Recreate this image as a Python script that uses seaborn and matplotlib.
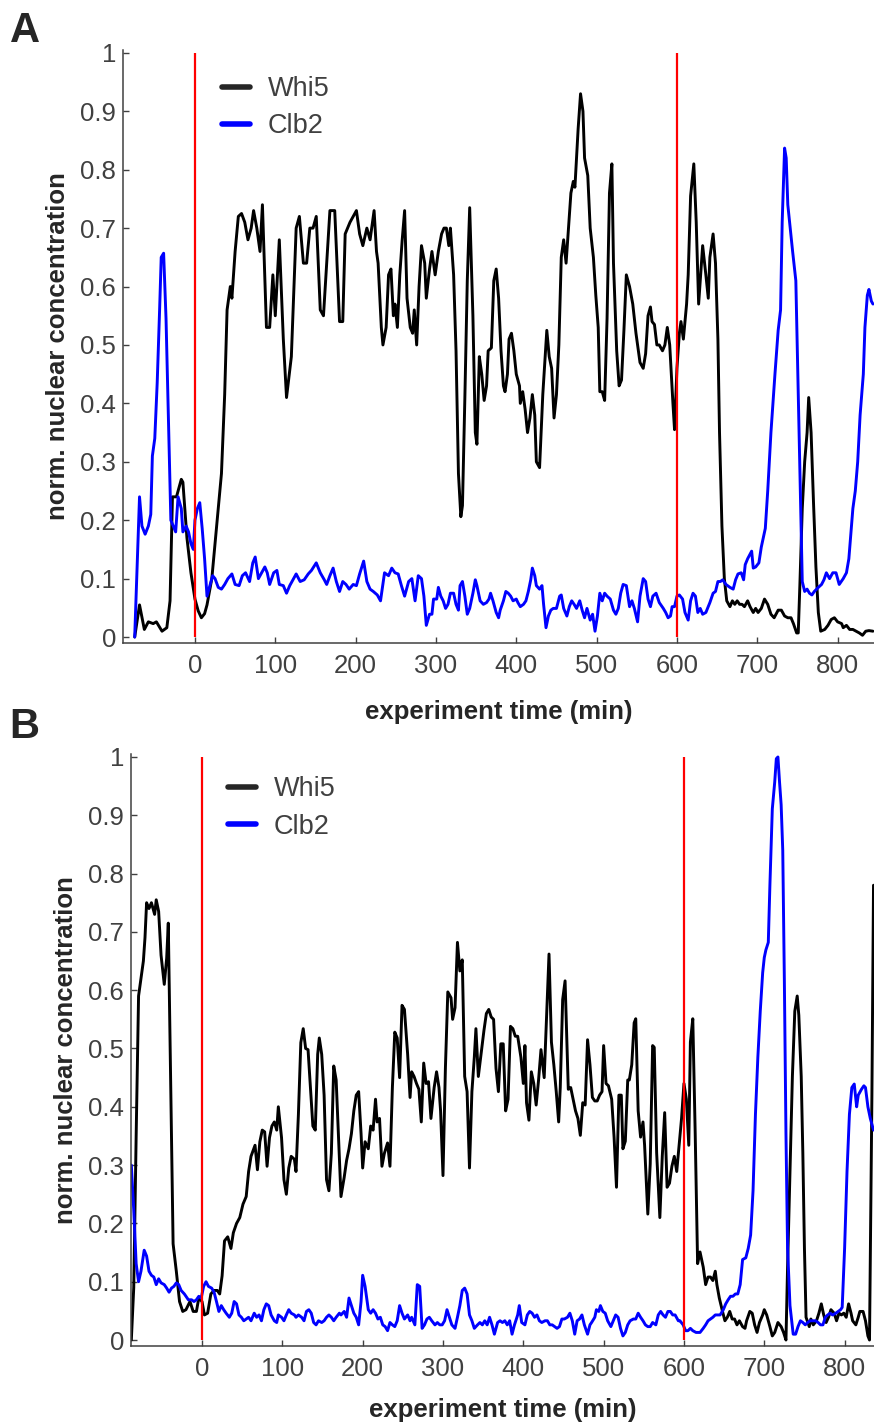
import numpy as np
import pandas as pd
import matplotlib
matplotlib.use("Agg")
import matplotlib.pyplot as plt
import seaborn as sns

# ---------------- data ----------------
# Panel A
tA_whi5 = [-75, -69, -63, -58, -52, -48, -41, -35, -31, -28, -23, -17, -15, -10, -5, 0, 4, 8, 12, 15,
           21, 27, 33, 37, 40, 44, 46, 50, 54, 58, 62, 66, 70, 73, 77, 81, 84, 89, 93, 97,
           100, 105, 110, 114, 120, 126, 130, 135, 139, 143, 147, 151, 156, 160, 168, 174, 180, 184, 187, 193,
           201, 205, 209, 214, 218, 223, 226, 228, 232, 234, 238, 241, 244, 247, 249, 252, 255, 258, 261, 264,
           268, 271, 273, 276, 279, 282, 286, 288, 292, 295, 299, 303, 307, 310, 313, 316, 318, 322, 325, 328,
           331, 333, 336, 339, 342, 346, 349, 351, 354, 357, 360, 363, 365, 369, 372, 375, 378, 381, 384, 386,
           389, 391, 394, 397, 400, 404, 405, 408, 411, 414, 417, 420, 423, 425, 429, 433, 436, 438, 441, 444,
           447, 450, 453, 456, 459, 462, 465, 468, 471, 473, 477, 480, 483, 485, 489, 492, 496, 499, 502, 504,
           507, 510, 513, 516, 519, 521, 525, 528, 531, 534, 537, 541, 545, 549, 554, 558, 561, 564, 567, 569,
           572, 575, 578, 582, 585, 588, 591, 593, 595, 597, 600, 603, 605, 608, 612, 614, 617, 621, 624, 627,
           629, 632, 636, 639, 641, 645, 648, 651, 653, 656, 659, 662, 666, 669, 672, 675, 678, 681, 684, 688,
           691, 695, 698, 701, 705, 709, 713, 717, 721, 726, 730, 734, 738, 742, 745, 749, 751, 753, 756, 759,
           762, 764, 767, 770, 773, 776, 779, 784, 788, 792, 796, 800, 805, 807, 811, 815, 819, 823, 827, 831,
           835, 839, 844]
vA_whi5 = [0.0, 0.055, 0.013, 0.026, 0.023, 0.026, 0.01, 0.016, 0.062, 0.24, 0.24, 0.27, 0.265, 0.17, 0.11, 0.065, 0.045, 0.033, 0.04, 0.055,
           0.10, 0.19, 0.28, 0.415, 0.56, 0.60, 0.58, 0.66, 0.72, 0.725, 0.71, 0.68, 0.70, 0.73, 0.70, 0.66, 0.74, 0.53, 0.53, 0.62,
           0.55, 0.68, 0.51, 0.41, 0.48, 0.70, 0.72, 0.64, 0.64, 0.70, 0.70, 0.72, 0.56, 0.55, 0.73, 0.73, 0.54, 0.54, 0.69, 0.71,
           0.73, 0.69, 0.67, 0.70, 0.68, 0.73, 0.66, 0.64, 0.53, 0.50, 0.53, 0.62, 0.63, 0.55, 0.57, 0.53, 0.62, 0.68, 0.73, 0.58,
           0.53, 0.52, 0.56, 0.50, 0.60, 0.67, 0.64, 0.58, 0.63, 0.66, 0.62, 0.66, 0.69, 0.70, 0.70, 0.67, 0.70, 0.62, 0.49, 0.28,
           0.206, 0.225, 0.41, 0.61, 0.735, 0.55, 0.35, 0.33, 0.48, 0.45, 0.405, 0.43, 0.49, 0.495, 0.61, 0.63, 0.58, 0.49, 0.43, 0.42,
           0.45, 0.51, 0.52, 0.49, 0.45, 0.43, 0.40, 0.42, 0.39, 0.35, 0.375, 0.415, 0.38, 0.30, 0.29, 0.415, 0.48, 0.525, 0.48, 0.46,
           0.375, 0.415, 0.50, 0.65, 0.68, 0.64, 0.70, 0.76, 0.78, 0.77, 0.87, 0.93, 0.90, 0.82, 0.79, 0.70, 0.65, 0.585, 0.53, 0.42,
           0.42, 0.405, 0.545, 0.76, 0.81, 0.64, 0.49, 0.43, 0.44, 0.525, 0.62, 0.60, 0.57, 0.52, 0.47, 0.46, 0.485, 0.55, 0.565, 0.54,
           0.535, 0.50, 0.50, 0.49, 0.50, 0.53, 0.50, 0.45, 0.40, 0.355, 0.46, 0.52, 0.54, 0.51, 0.57, 0.62, 0.755, 0.81, 0.71, 0.57,
           0.61, 0.67, 0.62, 0.58, 0.65, 0.69, 0.64, 0.51, 0.35, 0.19, 0.10, 0.062, 0.052, 0.062, 0.056, 0.062, 0.056, 0.056, 0.052, 0.062,
           0.052, 0.042, 0.049, 0.042, 0.049, 0.065, 0.056, 0.039, 0.033, 0.046, 0.046, 0.036, 0.033, 0.033, 0.023, 0.007, 0.007, 0.088, 0.22, 0.30,
           0.35, 0.41, 0.35, 0.23, 0.12, 0.042, 0.01, 0.013, 0.02, 0.03, 0.033, 0.026, 0.023, 0.016, 0.02, 0.013, 0.013, 0.01, 0.007, 0.003,
           0.01, 0.011, 0.01]

tA_clb2 = [-75, -69, -66, -62, -58, -55, -53, -50, -47, -44, -42, -39, -36, -33, -30, -27, -24, -21, -17, -15,
           -11, -8, -5, -2, 0, 3, 6, 9, 12, 15, 19, 22, 25, 29, 33, 37, 41, 46, 50, 55,
           59, 63, 68, 72, 75, 79, 83, 87, 90, 93, 98, 102, 105, 110, 114, 118, 122, 126, 131, 136,
           141, 145, 151, 156, 161, 164, 168, 172, 176, 180, 184, 188, 192, 197, 201, 205, 210, 214, 218, 222,
           227, 231, 236, 241, 245, 249, 253, 257, 261, 266, 270, 274, 278, 282, 285, 288, 292, 295, 297, 301,
           303, 306, 309, 312, 315, 318, 322, 325, 328, 330, 333, 336, 339, 342, 346, 349, 351, 355, 359, 363,
           366, 368, 371, 375, 378, 380, 384, 387, 390, 393, 396, 400, 402, 405, 409, 412, 415, 418, 420, 423,
           425, 429, 432, 434, 437, 440, 443, 446, 450, 454, 456, 459, 463, 466, 469, 472, 475, 479, 482, 485,
           488, 492, 495, 498, 501, 504, 507, 510, 513, 517, 521, 524, 527, 530, 533, 537, 541, 544, 547, 551,
           554, 558, 561, 564, 567, 570, 574, 578, 583, 586, 589, 592, 594, 597, 600, 603, 607, 610, 614, 617,
           620, 623, 626, 629, 632, 636, 639, 641, 645, 648, 651, 654, 657, 661, 663, 666, 670, 673, 676, 680,
           683, 685, 688, 693, 695, 698, 702, 705, 708, 710, 713, 717, 722, 726, 729, 731, 734, 736, 738, 741,
           744, 748, 751, 754, 756, 759, 762, 765, 768, 771, 776, 780, 783, 786, 790, 794, 798, 802, 807, 811,
           814, 817, 819, 822, 825, 828, 832, 834, 837, 839, 842, 844]
vA_clb2 = [0.0, 0.24, 0.19, 0.176, 0.19, 0.21, 0.31, 0.34, 0.435, 0.56, 0.65, 0.657, 0.545, 0.375, 0.20, 0.19, 0.18, 0.24, 0.22, 0.18,
           0.19, 0.18, 0.16, 0.15, 0.20, 0.22, 0.23, 0.186, 0.134, 0.07, 0.09, 0.105, 0.10, 0.085, 0.082, 0.09, 0.10, 0.108, 0.09, 0.088,
           0.105, 0.11, 0.095, 0.127, 0.137, 0.10, 0.11, 0.12, 0.11, 0.09, 0.11, 0.114, 0.09, 0.088, 0.075, 0.088, 0.098, 0.108, 0.095, 0.098,
           0.108, 0.114, 0.127, 0.11, 0.098, 0.09, 0.105, 0.118, 0.095, 0.078, 0.095, 0.09, 0.082, 0.09, 0.088, 0.108, 0.13, 0.095, 0.082, 0.078,
           0.072, 0.062, 0.11, 0.105, 0.118, 0.11, 0.108, 0.088, 0.07, 0.095, 0.10, 0.062, 0.105, 0.10, 0.07, 0.02, 0.039, 0.039, 0.065, 0.065,
           0.085, 0.07, 0.062, 0.049, 0.056, 0.075, 0.075, 0.056, 0.046, 0.088, 0.095, 0.07, 0.039, 0.049, 0.075, 0.098, 0.088, 0.062, 0.056, 0.059,
           0.065, 0.075, 0.062, 0.042, 0.033, 0.046, 0.062, 0.078, 0.075, 0.07, 0.062, 0.065, 0.059, 0.052, 0.056, 0.062, 0.078, 0.098, 0.118, 0.105,
           0.088, 0.082, 0.088, 0.056, 0.016, 0.036, 0.046, 0.049, 0.049, 0.07, 0.072, 0.049, 0.036, 0.052, 0.062, 0.056, 0.049, 0.062, 0.046, 0.033,
           0.049, 0.029, 0.039, 0.01, 0.036, 0.075, 0.062, 0.075, 0.07, 0.065, 0.046, 0.039, 0.049, 0.075, 0.09, 0.088, 0.052, 0.062, 0.049, 0.026,
           0.07, 0.10, 0.095, 0.065, 0.052, 0.07, 0.075, 0.059, 0.049, 0.042, 0.033, 0.036, 0.052, 0.052, 0.07, 0.072, 0.065, 0.042, 0.029, 0.062,
           0.075, 0.07, 0.042, 0.049, 0.039, 0.042, 0.052, 0.059, 0.075, 0.078, 0.095, 0.095, 0.098, 0.09, 0.088, 0.085, 0.082, 0.098, 0.108, 0.11,
           0.098, 0.124, 0.134, 0.147, 0.118, 0.12, 0.127, 0.154, 0.173, 0.186, 0.25, 0.35, 0.45, 0.525, 0.56, 0.71, 0.837, 0.82, 0.74, 0.70,
           0.66, 0.61, 0.415, 0.22, 0.095, 0.078, 0.082, 0.075, 0.072, 0.078, 0.085, 0.09, 0.098, 0.11, 0.10, 0.11, 0.11, 0.09, 0.10, 0.11,
           0.134, 0.186, 0.22, 0.25, 0.30, 0.38, 0.45, 0.53, 0.585, 0.595, 0.575, 0.57]

# Panel B
tB_whi5 = [-88, -85, -82, -79, -76, -73, -71, -69, -66, -63, -61, -59, -57, -54, -51, -47, -44, -42, -39, -36,
           -32, -28, -24, -20, -15, -11, -7, -4, 0, 3, 7, 11, 15, 19, 22, 25, 28, 32, 36, 39,
           43, 47, 51, 55, 58, 61, 66, 69, 72, 75, 78, 81, 84, 87, 90, 93, 95, 99, 102, 105,
           108, 111, 115, 117, 120, 123, 126, 129, 132, 135, 138, 141, 144, 146, 149, 152, 155, 158, 161, 164,
           167, 171, 173, 177, 180, 183, 186, 189, 192, 195, 198, 200, 203, 207, 210, 213, 216, 218, 221, 224,
           227, 231, 234, 237, 240, 243, 246, 249, 252, 256, 259, 261, 264, 267, 270, 273, 276, 279, 282, 285,
           289, 292, 295, 297, 300, 303, 306, 310, 312, 315, 318, 321, 324, 327, 330, 333, 336, 339, 341, 344,
           348, 351, 354, 357, 360, 363, 366, 369, 372, 375, 378, 381, 384, 387, 390, 393, 397, 400, 402, 404,
           407, 410, 413, 416, 419, 422, 426, 429, 432, 435, 438, 441, 444, 446, 449, 452, 456, 459, 462, 465,
           468, 471, 474, 477, 480, 483, 486, 489, 492, 495, 498, 500, 503, 506, 510, 513, 516, 519, 522, 524,
           527, 530, 532, 535, 538, 540, 543, 546, 549, 551, 555, 558, 561, 563, 566, 570, 573, 576, 579, 582,
           585, 588, 591, 594, 597, 600, 603, 606, 608, 611, 614, 617, 620, 624, 627, 630, 633, 636, 639, 641,
           644, 648, 651, 654, 657, 660, 663, 666, 669, 673, 676, 678, 682, 685, 688, 691, 694, 698, 700, 703,
           707, 710, 713, 717, 721, 724, 727, 729, 732, 735, 738, 741, 743, 746, 748, 750, 752, 756, 758, 761,
           765, 768, 771, 774, 777, 780, 783, 787, 790, 793, 796, 799, 802, 805, 808, 810, 814, 817, 819, 823,
           826, 829, 831, 834, 836]
vB_whi5 = [0.0, 0.09, 0.35, 0.59, 0.62, 0.65, 0.69, 0.75, 0.74, 0.75, 0.74, 0.73, 0.755, 0.735, 0.66, 0.61, 0.655, 0.715, 0.445, 0.165,
           0.118, 0.066, 0.049, 0.052, 0.066, 0.049, 0.049, 0.072, 0.066, 0.043, 0.046, 0.079, 0.085, 0.085, 0.079, 0.11, 0.17, 0.177, 0.157, 0.184,
           0.20, 0.21, 0.233, 0.246, 0.289, 0.315, 0.334, 0.292, 0.34, 0.36, 0.357, 0.298, 0.347, 0.367, 0.374, 0.36, 0.40, 0.347, 0.275, 0.25,
           0.295, 0.315, 0.31, 0.289, 0.387, 0.51, 0.534, 0.50, 0.498, 0.433, 0.367, 0.36, 0.49, 0.518, 0.49, 0.42, 0.275, 0.256, 0.32, 0.47,
           0.446, 0.315, 0.246, 0.279, 0.308, 0.328, 0.354, 0.393, 0.42, 0.426, 0.354, 0.295, 0.34, 0.328, 0.367, 0.36, 0.413, 0.374, 0.38, 0.298,
           0.32, 0.338, 0.298, 0.433, 0.528, 0.518, 0.45, 0.574, 0.567, 0.49, 0.416, 0.46, 0.452, 0.44, 0.43, 0.374, 0.475, 0.44, 0.443, 0.38,
           0.433, 0.46, 0.433, 0.393, 0.282, 0.466, 0.597, 0.587, 0.55, 0.57, 0.682, 0.633, 0.652, 0.452, 0.426, 0.295, 0.426, 0.485, 0.534, 0.452,
           0.498, 0.531, 0.56, 0.567, 0.554, 0.55, 0.466, 0.426, 0.508, 0.508, 0.393, 0.413, 0.538, 0.534, 0.521, 0.521, 0.485, 0.44, 0.505, 0.407,
           0.377, 0.46, 0.44, 0.403, 0.446, 0.498, 0.45, 0.557, 0.662, 0.511, 0.472, 0.426, 0.374, 0.433, 0.584, 0.616, 0.43, 0.433, 0.413, 0.393,
           0.38, 0.351, 0.407, 0.403, 0.515, 0.472, 0.416, 0.41, 0.41, 0.42, 0.426, 0.505, 0.44, 0.436, 0.413, 0.348, 0.262, 0.42, 0.42, 0.328,
           0.341, 0.446, 0.446, 0.472, 0.544, 0.551, 0.393, 0.348, 0.374, 0.334, 0.216, 0.302, 0.505, 0.502, 0.321, 0.21, 0.315, 0.39, 0.262, 0.269,
           0.298, 0.315, 0.289, 0.334, 0.38, 0.44, 0.413, 0.334, 0.511, 0.551, 0.354, 0.131, 0.151, 0.125, 0.095, 0.108, 0.108, 0.102, 0.118, 0.095,
           0.072, 0.049, 0.033, 0.039, 0.049, 0.036, 0.036, 0.026, 0.033, 0.023, 0.02, 0.033, 0.049, 0.046, 0.026, 0.013, 0.03, 0.043, 0.052, 0.043,
           0.023, 0.007, 0.013, 0.03, 0.023, 0.013, 0.0, 0.125, 0.289, 0.452, 0.564, 0.59, 0.557, 0.452, 0.321, 0.157, 0.039, 0.023, 0.036, 0.026,
           0.033, 0.046, 0.062, 0.043, 0.03, 0.039, 0.052, 0.046, 0.033, 0.046, 0.043, 0.046, 0.039, 0.062, 0.046, 0.033, 0.026, 0.039, 0.049, 0.049,
           0.033, 0.007, 0.0, 0.42, 0.78]

tB_clb2 = [-88, -85, -82, -79, -76, -72, -69, -66, -63, -60, -57, -54, -51, -47, -44, -41, -38, -35, -32, -29,
           -26, -22, -20, -17, -13, -10, -7, -4, -1, 2, 5, 8, 12, 15, 18, 21, 24, 27, 30, 34,
           37, 40, 43, 46, 49, 52, 55, 58, 61, 65, 68, 71, 74, 77, 80, 83, 86, 90, 93, 95,
           99, 102, 105, 108, 111, 115, 117, 120, 124, 127, 130, 133, 136, 139, 142, 145, 149, 152, 155, 158,
           161, 164, 167, 171, 173, 177, 180, 183, 186, 189, 192, 195, 198, 200, 203, 207, 210, 213, 216, 219,
           222, 225, 228, 231, 234, 237, 240, 243, 246, 249, 252, 256, 259, 261, 265, 268, 271, 274, 277, 280,
           283, 286, 290, 293, 296, 299, 302, 305, 308, 311, 315, 318, 321, 324, 327, 330, 333, 336, 339, 343,
           346, 349, 352, 355, 358, 361, 364, 368, 371, 374, 377, 380, 383, 386, 389, 393, 395, 398, 402, 405,
           408, 411, 414, 417, 420, 423, 427, 430, 433, 436, 439, 442, 445, 448, 451, 455, 458, 461, 464, 467,
           470, 473, 476, 480, 483, 485, 489, 491, 494, 496, 499, 502, 505, 509, 512, 515, 518, 521, 524, 527,
           530, 533, 537, 540, 543, 546, 549, 552, 555, 558, 561, 565, 568, 571, 574, 577, 580, 583, 586, 589,
           593, 595, 599, 602, 605, 608, 611, 615, 617, 620, 624, 627, 630, 633, 636, 639, 642, 645, 649, 652,
           655, 658, 661, 664, 667, 670, 673, 677, 680, 683, 686, 689, 692, 695, 698, 700, 702, 705, 707, 710,
           713, 715, 717, 719, 721, 723, 725, 727, 729, 732, 736, 739, 742, 745, 748, 751, 754, 757, 761, 764,
           767, 770, 773, 776, 779, 782, 785, 789, 792, 795, 797, 800, 803, 806, 809, 812, 815, 817, 821, 824,
           826, 829, 832, 836]
vB_clb2 = [0.30, 0.223, 0.131, 0.10, 0.118, 0.154, 0.144, 0.118, 0.111, 0.108, 0.095, 0.105, 0.098, 0.095, 0.089, 0.082, 0.089, 0.092, 0.098, 0.095,
           0.085, 0.079, 0.075, 0.069, 0.069, 0.066, 0.069, 0.075, 0.072, 0.092, 0.10, 0.092, 0.089, 0.082, 0.066, 0.049, 0.059, 0.052, 0.046, 0.039,
           0.046, 0.066, 0.062, 0.043, 0.039, 0.033, 0.036, 0.039, 0.033, 0.046, 0.039, 0.043, 0.033, 0.052, 0.062, 0.059, 0.043, 0.033, 0.03, 0.043,
           0.039, 0.033, 0.043, 0.052, 0.046, 0.043, 0.039, 0.043, 0.039, 0.033, 0.049, 0.052, 0.046, 0.03, 0.026, 0.033, 0.03, 0.033, 0.039, 0.043,
           0.039, 0.033, 0.039, 0.046, 0.043, 0.049, 0.039, 0.072, 0.059, 0.046, 0.039, 0.026, 0.066, 0.111, 0.092, 0.052, 0.046, 0.052, 0.046, 0.036,
           0.039, 0.026, 0.023, 0.016, 0.03, 0.026, 0.023, 0.033, 0.059, 0.046, 0.036, 0.043, 0.033, 0.039, 0.026, 0.095, 0.092, 0.02, 0.026, 0.036,
           0.039, 0.033, 0.026, 0.03, 0.026, 0.026, 0.033, 0.052, 0.039, 0.026, 0.02, 0.039, 0.059, 0.085, 0.089, 0.079, 0.043, 0.033, 0.02, 0.026,
           0.03, 0.026, 0.033, 0.026, 0.039, 0.026, 0.01, 0.03, 0.033, 0.03, 0.033, 0.026, 0.033, 0.01, 0.026, 0.043, 0.059, 0.03, 0.026, 0.043,
           0.049, 0.046, 0.039, 0.043, 0.033, 0.03, 0.033, 0.033, 0.026, 0.026, 0.023, 0.02, 0.023, 0.036, 0.036, 0.039, 0.046, 0.033, 0.01, 0.033,
           0.036, 0.043, 0.026, 0.01, 0.026, 0.03, 0.039, 0.052, 0.049, 0.059, 0.049, 0.046, 0.033, 0.023, 0.033, 0.043, 0.039, 0.02, 0.007, 0.013,
           0.026, 0.033, 0.036, 0.036, 0.046, 0.039, 0.033, 0.026, 0.023, 0.023, 0.03, 0.026, 0.043, 0.049, 0.043, 0.039, 0.049, 0.049, 0.043, 0.043,
           0.033, 0.033, 0.026, 0.016, 0.016, 0.02, 0.016, 0.013, 0.013, 0.013, 0.02, 0.026, 0.033, 0.036, 0.039, 0.043, 0.043, 0.043, 0.052, 0.062,
           0.069, 0.075, 0.075, 0.079, 0.079, 0.095, 0.138, 0.141, 0.157, 0.18, 0.256, 0.387, 0.485, 0.564, 0.63, 0.656, 0.669, 0.682, 0.78, 0.911,
           0.957, 0.997, 1.0, 0.957, 0.918, 0.84, 0.616, 0.354, 0.157, 0.059, 0.01, 0.01, 0.023, 0.033, 0.03, 0.026, 0.03, 0.033, 0.033, 0.033,
           0.03, 0.026, 0.026, 0.039, 0.043, 0.046, 0.043, 0.046, 0.049, 0.052, 0.056, 0.157, 0.289, 0.387, 0.433, 0.439, 0.40, 0.42, 0.43, 0.436,
           0.433, 0.40, 0.38, 0.36]

event_times = [0, 600]
series_names = ["Whi5", "Clb2"]
line_colors = {"Whi5": "black", "Clb2": "#0000FF"}
x_ticks = list(range(0, 900, 100))
y_ticks = [round(0.1 * i, 1) for i in range(11)]
y_tick_labels = ["0", "0.1", "0.2", "0.3", "0.4", "0.5", "0.6", "0.7", "0.8", "0.9", "1"]


def to_long(t_whi5, v_whi5, t_clb2, v_clb2):
    a = pd.DataFrame({"time": t_whi5, "conc": v_whi5, "protein": "Whi5"})
    b = pd.DataFrame({"time": t_clb2, "conc": v_clb2, "protein": "Clb2"})
    return pd.concat([a, b], ignore_index=True)


dfA = to_long(tA_whi5, vA_whi5, tA_clb2, vA_clb2)
dfB = to_long(tB_whi5, vB_whi5, tB_clb2, vB_clb2)

sns.set_style("ticks")
plt.rcParams["font.family"] = ["Liberation Sans", "DejaVu Sans"]

fig = plt.figure(figsize=(8.74, 14.23), dpi=100)
axA = fig.add_axes([0.1407, 0.5481, 0.8593, 0.4168])
axB = fig.add_axes([0.1499, 0.0541, 0.8501, 0.4160])

# (axes, data, xlim, panel letter, letter baseline y, legend anchor, xlabel pad)
panels = [
    (axA, dfA, (-89.6, 845.3), "A", 0.9705, (0.1312, 0.956), 16),
    (axB, dfB, (-88.4, 836.6), "B", 0.4814, (0.1306, 0.9625), 12),
]

tick_gray = "#404040"
for ax, df, xlim, letter, letter_y, leg_anchor, xpad in panels:
    sns.lineplot(data=df, x="time", y="conc", hue="protein", hue_order=series_names,
                 palette=line_colors, estimator=None, sort=False, linewidth=2.1,
                 ax=ax, clip_on=True)
    ax.vlines(event_times, 0, 1, colors="red", linewidth=1.6, zorder=5)

    ax.set_xlim(*xlim)
    ax.set_ylim(-0.0103, 1.005)
    ax.set_xticks(x_ticks)
    ax.set_yticks(y_ticks)
    ax.set_yticklabels(y_tick_labels)
    ax.tick_params(direction="in", length=4, width=1.0, colors=tick_gray,
                   labelsize=18.5, labelcolor=tick_gray)
    ax.tick_params(axis="y", pad=5)
    ax.tick_params(axis="x", pad=8)
    for side in ["top", "right"]:
        ax.spines[side].set_visible(False)
    for side in ["left", "bottom"]:
        ax.spines[side].set_color(tick_gray)
        ax.spines[side].set_linewidth(1.1)

    ax.set_xlabel("experiment time (min)", fontsize=18.5, fontweight="bold",
                  color="#262626", labelpad=xpad)
    ax.set_ylabel("norm. nuclear concentration", fontsize=18.5, fontweight="bold",
                  color="#262626", labelpad=7)

    handles, labels = ax.get_legend_handles_labels()
    leg = ax.legend(handles, labels, loc="upper left", bbox_to_anchor=leg_anchor,
                    frameon=False, fontsize=19.5, handlelength=1.05,
                    handletextpad=0.65, labelspacing=0.42, borderpad=0,
                    borderaxespad=0)
    for h, name in zip(leg.legend_handles, labels):
        h.set_linewidth(4)
        h.set_color("#262626" if name == "Whi5" else "#0000FF")
    for txt in leg.get_texts():
        txt.set_color(tick_gray)

    # panel letter
    fig.text(0.011, letter_y, letter, fontsize=30, fontweight="bold",
             color="#262626", ha="left", va="baseline")

fig.savefig("out.png", dpi=100)
